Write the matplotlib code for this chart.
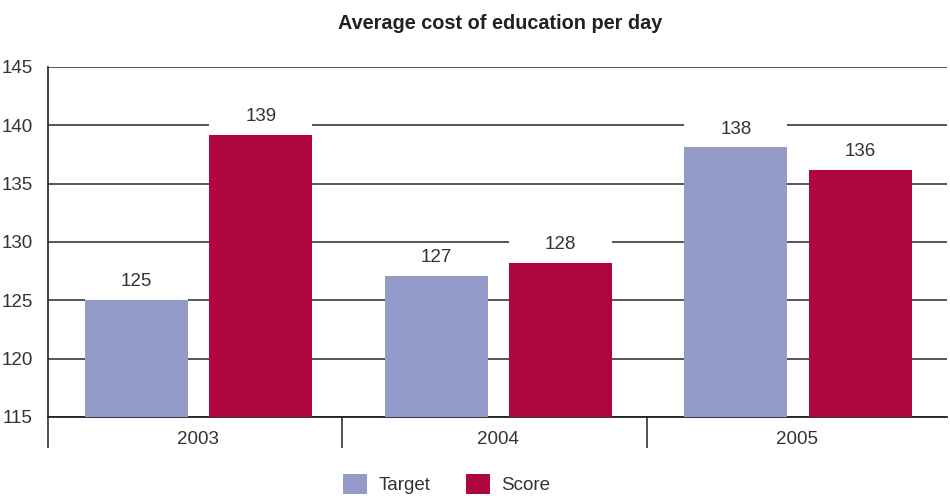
import numpy as np
import matplotlib.pyplot as plt
from matplotlib.patches import Patch

# --- data ---
years = ["2003", "2004", "2005"]
target = [125.0, 127.1, 138.1]
score = [139.2, 128.2, 136.2]
y_ticks = [115, 120, 125, 130, 135, 140, 145]

C_TARGET = "#959bc8"
C_SCORE = "#b0063f"
TXT = "#333333"

plt.rcParams['font.family'] = ['Liberation Sans', 'DejaVu Sans']

fig = plt.figure(figsize=(9.5, 4.96), dpi=100)
ax = fig.add_axes([0.0505, 0.1593, 0.9465, 0.7057])

x = np.arange(len(years))
w = 0.343
off = 0.21

ax.set_axisbelow(True)
ax.yaxis.grid(True, color="#555555", linewidth=1.4)
b1 = ax.bar(x - off + 0.005, target, w, color=C_TARGET, zorder=3)
b2 = ax.bar(x + off, score, w, color=C_SCORE, zorder=3)

for bars, vals in ((b1, target), (b2, score)):
    for r, v in zip(bars, vals):
        ax.text(r.get_x() + r.get_width() / 2, v + 0.85, f"{round(v):d}",
                ha="center", va="bottom", fontsize=13.5, color=TXT, zorder=4)
        # white patch to break gridline behind label
        ax.bar(r.get_x() + r.get_width() / 2, 2.6, r.get_width(),
               bottom=v + 0.05, color="white", zorder=2.5)

ax.set_xlim(-0.5, 2.5)
ax.set_ylim(115, 145)
ax.set_yticks(y_ticks)
ax.set_yticklabels([str(t) for t in y_ticks], fontsize=13.5, color=TXT)
ax.tick_params(axis="y", length=0, pad=11)

ax.set_xticks(x)
ax.set_xticklabels(years, fontsize=13.5, color=TXT)
ax.tick_params(axis="x", which="major", length=0, pad=10)
ax.set_xticks([-0.5, 0.48, 1.5], minor=True)
ax.tick_params(axis="x", which="minor", length=22, width=1.3, color="#444444",
               direction="out")

for s in ("top", "right"):
    ax.spines[s].set_visible(False)
ax.spines["left"].set_color("#333333")
ax.spines["left"].set_linewidth(1.3)
ax.spines["bottom"].set_color("#222222")
ax.spines["bottom"].set_linewidth(1.3)

fig.text(0.526, 0.953, "Average cost of education per day", ha="center",
         va="center", fontsize=14.3, fontweight="bold", color="#222222")

handles = [Patch(facecolor=C_TARGET, label="Target"),
           Patch(facecolor=C_SCORE, label="Score")]
fig.legend(handles=handles, loc="center", bbox_to_anchor=(0.47, 0.024),
           ncol=2, frameon=False, fontsize=13.5, handlelength=1.3,
           handleheight=1.3, handletextpad=0.6, columnspacing=1.9,
           labelcolor=TXT)

fig.savefig("out.png", dpi=100)
